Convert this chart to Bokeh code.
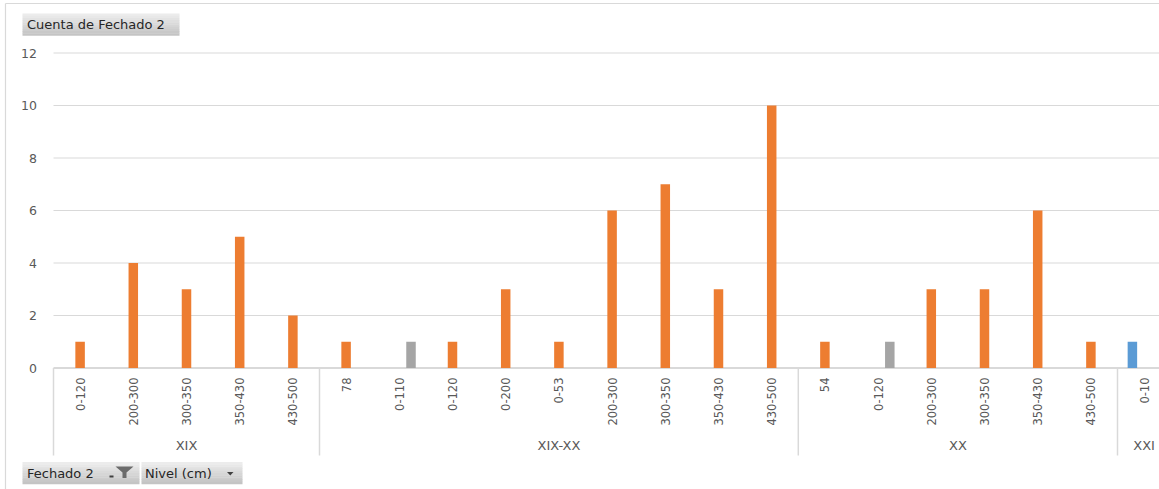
from math import pi

from bokeh.core.properties import value
from bokeh.embed import file_html
from bokeh.models import ColumnDataSource, Range1d
from bokeh.plotting import figure
from bokeh.resources import INLINE

# ---- data -------------------------------------------------------------
groups = ["XIX", "XIX-XX", "XX", "XXI"]
levels_xix = ["0-120", "200-300", "300-350", "350-430", "430-500"]
levels_xix_xx = ["78", "0-110", "0-120", "0-200", "0-53",
                 "200-300", "300-350", "350-430", "430-500"]
levels_xx = ["54", "0-120", "200-300", "300-350", "350-430", "430-500"]
levels_xxi = ["0-10"]

counts_orange = [1, 4, 3, 5, 2,
                 1, 0, 1, 3, 1, 6, 7, 3, 10,
                 1, 0, 3, 3, 6, 1,
                 0]
counts_gray = [0, 0, 0, 0, 0,
               0, 1, 0, 0, 0, 0, 0, 0, 0,
               0, 1, 0, 0, 0, 0,
               0]
counts_blue = [0, 0, 0, 0, 0,
               0, 0, 0, 0, 0, 0, 0, 0, 0,
               0, 0, 0, 0, 0, 0,
               1]
y_ticks = [0, 2, 4, 6, 8, 10, 12]

value_title = "Cuenta de Fechado 2"
field_buttons = ["Fechado 2", "Nivel (cm)"]

# ---- layout -----------------------------------------------------------
W, H = 1159, 489
X0, XU = 53.0, 53.2      # left edge of first category, pixels per category
Y0, YU = 367.5, 26.25    # baseline pixel, pixels per count unit

GRID = "#d9d9d9"
TEXT = "#595959"
FONT = value("DejaVu Sans")


def px_x(px):
    return (px - X0) / XU


def px_y(py):
    return (Y0 - py) / YU


level_groups = [levels_xix, levels_xix_xx, levels_xx, levels_xxi]
levels = [lv for g in level_groups for lv in g]
n_cat = len(levels)
centers = [i + 0.5 for i in range(n_cat)]

bounds = [0]
for g in level_groups:
    bounds.append(bounds[-1] + len(g))

p = figure(width=W, height=H,
           x_range=Range1d(px_x(0), px_x(W)),
           y_range=Range1d(px_y(H), px_y(0)),
           x_axis_type=None, y_axis_type=None,
           min_border=0, toolbar_location=None, output_backend="svg")
p.outline_line_color = None
p.background_fill_color = "white"
p.border_fill_color = "white"

# chart-area border (left and top edges)
p.segment(x0=[px_x(5), px_x(5)], y0=[px_y(3), px_y(3)],
          x1=[px_x(5), px_x(W + 10)], y1=[px_y(H + 10), px_y(3)],
          line_color=GRID, line_width=1.2)

# horizontal gridlines
grid_vals = [v for v in y_ticks if v > 0]
p.segment(x0=[0] * len(grid_vals), y0=grid_vals,
          x1=[n_cat + 1] * len(grid_vals), y1=grid_vals,
          line_color=GRID, line_width=1.2)

# category axis line
p.segment(x0=[0], y0=[0], x1=[n_cat + 1], y1=[0],
          line_color=GRID, line_width=2)

# group separators
p.segment(x0=bounds, y0=[0] * len(bounds),
          x1=bounds, y1=[px_y(455)] * len(bounds),
          line_color=GRID, line_width=1.5)

# y tick labels
p.text(x=[px_x(36.5)] * len(y_ticks), y=y_ticks,
       text=[str(v) for v in y_ticks],
       text_align="right", text_baseline="middle",
       text_font=FONT, text_font_size=value("12.5px"), text_color=TEXT)

# category labels (rotated)
p.text(x=centers, y=[px_y(377)] * n_cat, text=levels, angle=pi / 2,
       text_align="right", text_baseline="middle",
       text_font=FONT, text_font_size=value("11.5px"), text_color=TEXT)

# group labels
group_centers = [(bounds[i] + bounds[i + 1]) / 2 for i in range(len(groups))]
p.text(x=group_centers, y=[px_y(445)] * len(groups), text=groups,
       text_align="center", text_baseline="middle",
       text_font=FONT, text_font_size=value("13px"), text_color=TEXT)

# bars: three series side by side within each category
bar_w = 9.5 / XU
series = [(counts_blue, -0.22, "#5B9BD5"),
          (counts_orange, 0.0, "#ED7D31"),
          (counts_gray, 0.22, "#A5A5A5")]
for counts, off, color in series:
    xs = [c + off for c, v in zip(centers, counts) if v]
    tops = [v for v in counts if v]
    src = ColumnDataSource(dict(x=xs, top=tops))
    p.vbar(x="x", top="top", bottom=0, width=bar_w, source=src,
           fill_color=color, line_color=None)


# pivot field buttons (gray gradient boxes)
def button(x0, x1, y0, y1, label, tx):
    n = 10
    c_top, c_bot = (236, 236, 236), (196, 196, 196)
    step = (y1 - y0) / n
    lefts, rights, tops, bottoms, colors = [], [], [], [], []
    for k in range(n):
        t = k / (n - 1)
        rgb = tuple(int(round(a + (b - a) * t)) for a, b in zip(c_top, c_bot))
        lefts.append(px_x(x0))
        rights.append(px_x(x1))
        tops.append(px_y(y0 + k * step))
        bottoms.append(px_y(y0 + (k + 1) * step + 0.3))
        colors.append("#%02x%02x%02x" % rgb)
    p.quad(left=lefts, right=rights, top=tops, bottom=bottoms,
           fill_color=colors, line_color=None)
    p.text(x=[px_x(tx)], y=[px_y((y0 + y1) / 2)], text=[label],
           text_align="left", text_baseline="middle",
           text_font=FONT, text_font_size=value("13px"), text_color="#262626")


button(22, 179, 13, 35, value_title, 26.5)
button(22, 139, 461.5, 483.5, field_buttons[0], 26.5)
button(141, 242, 461.5, 483.5, field_buttons[1], 144.5)

# filter funnel icon
p.patch(x=[px_x(115), px_x(133), px_x(126), px_x(126), px_x(122), px_x(122)],
        y=[px_y(466), px_y(466), px_y(472), px_y(477.5), px_y(477.5), px_y(472)],
        fill_color="#6b6b6b", line_color=None)
# small dropdown marks
p.quad(left=[px_x(109)], right=[px_x(113)], top=[px_y(475)], bottom=[px_y(477)],
       fill_color="#404040", line_color=None)
p.patch(x=[px_x(226.5), px_x(233), px_x(229.75)],
        y=[px_y(471.5), px_y(471.5), px_y(475)],
        fill_color="#404040", line_color=None)

open("out.html", "w").write(file_html(p, INLINE))
